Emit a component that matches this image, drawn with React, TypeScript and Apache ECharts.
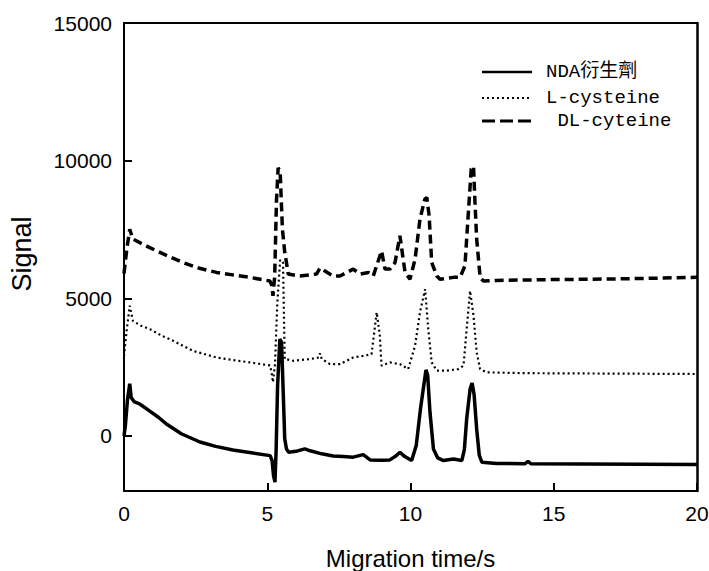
import React, { useEffect, useRef } from "react";
import * as echarts from "echarts";

// Tick labels
const xTicks = [0, 5, 10, 15, 20];
const yTicks = [0, 5000, 10000, 15000];

// NDA衍生劑 (solid)
const ndaT = [0, 0.05, 0.12, 0.2, 0.25, 0.35, 0.55, 0.9, 1.2, 1.48, 2.0, 2.65, 3.2, 3.8, 4.5, 5.1, 5.17, 5.22, 5.27, 5.31, 5.36, 5.44, 5.5, 5.56, 5.61, 5.67, 5.75, 6.0, 6.31, 6.5, 6.9, 7.3, 7.65, 8.0, 8.35, 8.59, 9.0, 9.28, 9.5, 9.63, 9.8, 10.04, 10.2, 10.35, 10.54, 10.6, 10.68, 10.8, 10.95, 11.15, 11.5, 11.79, 11.88, 11.96, 12.08, 12.15, 12.22, 12.31, 12.4, 12.49, 13.0, 14.0, 14.1, 14.2, 16, 18, 20];
const ndaV = [0, 400, 1300, 1900, 1400, 1250, 1160, 900, 680, 435, 80, -220, -380, -510, -620, -715, -900, -1450, -1680, -500, 1800, 3520, 3400, 1500, -100, -470, -590, -560, -470, -540, -650, -730, -750, -770, -680, -870, -880, -870, -720, -590, -750, -895, -350, 1000, 2400, 2200, 860, -470, -800, -895, -835, -895, -500, 615, 1700, 1920, 1500, 250, -700, -955, -1000, -1010, -920, -1010, -1020, -1030, -1040];

// L-cysteine (dotted)
const lcT = [0, 0.1, 0.2, 0.31, 0.6, 0.9, 1.3, 1.71, 2.41, 3.23, 3.8, 4.39, 5.1, 5.15, 5.2, 5.27, 5.35, 5.45, 5.55, 5.61, 5.67, 5.9, 6.49, 6.8, 6.84, 6.9, 7.19, 7.54, 8.0, 8.35, 8.64, 8.82, 8.93, 8.99, 9.28, 9.63, 9.92, 10.16, 10.33, 10.51, 10.62, 10.74, 10.92, 11.27, 11.67, 11.85, 11.96, 12.08, 12.2, 12.31, 12.43, 12.66, 14, 16, 18, 20];
const lcV = [2900, 3900, 4730, 4180, 4000, 3880, 3650, 3460, 3090, 2850, 2760, 2670, 2560, 2300, 1950, 2600, 4800, 6400, 6300, 2790, 2790, 2730, 2790, 2850, 3000, 2800, 2610, 2610, 2850, 2910, 2970, 4490, 3640, 2550, 2670, 2610, 2430, 3280, 4490, 5330, 3880, 2670, 2370, 2370, 2430, 2550, 3880, 5270, 4360, 3030, 2430, 2310, 2280, 2270, 2260, 2250];

// DL-cyteine (dashed)
const dlT = [0, 0.1, 0.2, 0.31, 0.9, 1.5, 2.06, 2.6, 3.23, 3.8, 4.39, 5.09, 5.15, 5.2, 5.26, 5.32, 5.38, 5.45, 5.53, 5.61, 5.67, 5.73, 6.14, 6.72, 6.84, 7.3, 7.54, 8.0, 8.24, 8.53, 8.7, 8.99, 9.11, 9.28, 9.46, 9.63, 9.81, 9.98, 10.16, 10.33, 10.5, 10.57, 10.65, 10.74, 10.92, 11.03, 11.5, 11.73, 11.9, 12.0, 12.12, 12.2, 12.25, 12.31, 12.43, 12.54, 13, 15, 17, 20];
const dlV = [5900, 6800, 7510, 7150, 6840, 6550, 6300, 6100, 5940, 5850, 5760, 5630, 5500, 5090, 5800, 8500, 9740, 9600, 7500, 6670, 6300, 5880, 5810, 5880, 6100, 5810, 5810, 6060, 5880, 5940, 5810, 6720, 6060, 6060, 6300, 7270, 5940, 5690, 6420, 7870, 8600, 8660, 8000, 6300, 5810, 5690, 5760, 5760, 6180, 7800, 9700, 9800, 8500, 7150, 5760, 5630, 5650, 5680, 5700, 5760];

const seriesNames = ["NDA衍生劑", "L-cysteine", " DL-cyteine"];

const zip = (t: number[], v: number[]) => t.map((x, i) => [x, v[i]]);

export default function App() {
  const ref = useRef<HTMLDivElement>(null);
  useEffect(() => {
    if (!ref.current) return;
    const chart = echarts.init(ref.current, undefined, { renderer: "svg" });
    const sans = "'Liberation Sans', Arial, sans-serif";
    const legFont = "'Liberation Mono', 'Noto Sans CJK TC', monospace";
    const legX1 = 482;
    const legX2 = 532;
    const legTextX = 546;
    const legY = [72, 98, 121];
    const blackLine = (w: number) => ({ show: true, onZero: false, lineStyle: { color: "#000", width: w } });
    chart.setOption({
      animation: false,
      backgroundColor: "#fff",
      grid: { left: 124, right: 12, top: 23, bottom: 80, containLabel: false, outerBoundsMode: "none" },
      xAxis: [
        {
          type: "value",
          min: 0,
          max: 20,
          interval: 5,
          axisLine: blackLine(2),
          axisTick: { show: true, inside: true, length: 8, customValues: xTicks, lineStyle: { color: "#000", width: 2 } },
          axisLabel: { color: "#000", fontSize: 21, fontFamily: sans, margin: 12, customValues: xTicks },
          splitLine: { show: false },
        },
        {
          type: "value",
          position: "top",
          min: 0,
          max: 20,
          axisLine: blackLine(2),
          axisTick: { show: false },
          axisLabel: { show: false },
          splitLine: { show: false },
        },
      ],
      yAxis: [
        {
          type: "value",
          min: -2000,
          max: 15000,
          axisLine: blackLine(2),
          axisTick: {
            show: true,
            inside: true,
            length: 8,
            customValues: yTicks,
            lineStyle: { color: "#000", width: 2 },
          },
          axisLabel: {
            color: "#000",
            fontSize: 21,
            fontFamily: sans,
            margin: 12,
            customValues: yTicks,
            formatter: (v: number) => String(v),
          },
          splitLine: { show: false },
        },
        {
          type: "value",
          position: "right",
          min: -2000,
          max: 15000,
          axisLine: blackLine(2.5),
          axisTick: { show: false },
          axisLabel: { show: false },
          splitLine: { show: false },
        },
      ],
      series: [
        {
          name: seriesNames[0],
          type: "line",
          data: zip(ndaT, ndaV),
          showSymbol: false,
          lineStyle: { color: "#000", width: 3.5, type: "solid" },
        },
        {
          name: seriesNames[1],
          type: "line",
          data: zip(lcT, lcV),
          showSymbol: false,
          lineStyle: { color: "#000", width: 2.2, type: [2, 3] },
        },
        {
          name: seriesNames[2],
          type: "line",
          data: zip(dlT, dlV),
          showSymbol: false,
          lineStyle: { color: "#000", width: 3.5, type: [9, 5] },
        },
      ],
      graphic: [
        {
          type: "line",
          shape: { x1: legX1, y1: legY[0], x2: legX2, y2: legY[0] },
          style: { stroke: "#000", lineWidth: 2.5 },
        },
        {
          type: "line",
          shape: { x1: legX1, y1: legY[1], x2: legX2, y2: legY[1] },
          style: { stroke: "#000", lineWidth: 2, lineDash: [2, 3] },
        },
        {
          type: "line",
          shape: { x1: legX1, y1: legY[2], x2: legX2, y2: legY[2] },
          style: { stroke: "#000", lineWidth: 3, lineDash: [13, 5] },
        },
        ...seriesNames.map((n, i) => ({
          type: "text",
          x: legTextX,
          y: legY[i],
          style: {
            text: n,
            fill: "#000",
            fontSize: 19,
            fontFamily: legFont,
            align: "left",
            verticalAlign: "middle",
          },
        })),
        {
          type: "text",
          x: 410.5,
          y: 558,
          style: {
            text: "Migration time/s",
            fill: "#000",
            fontSize: 24,
            fontFamily: sans,
            align: "center",
            verticalAlign: "middle",
          },
        },
        {
          type: "text",
          x: 22,
          y: 254,
          rotation: Math.PI / 2,
          style: {
            text: "Signal",
            fill: "#000",
            fontSize: 27,
            fontFamily: sans,
            align: "center",
            verticalAlign: "middle",
          },
        },
      ],
    });
    return () => chart.dispose();
  }, []);
  return (
    <div
      ref={ref}
      style={{ position: "fixed", left: 0, top: 0, width: 709, height: 571, background: "#fff" }}
    />
  );
}
